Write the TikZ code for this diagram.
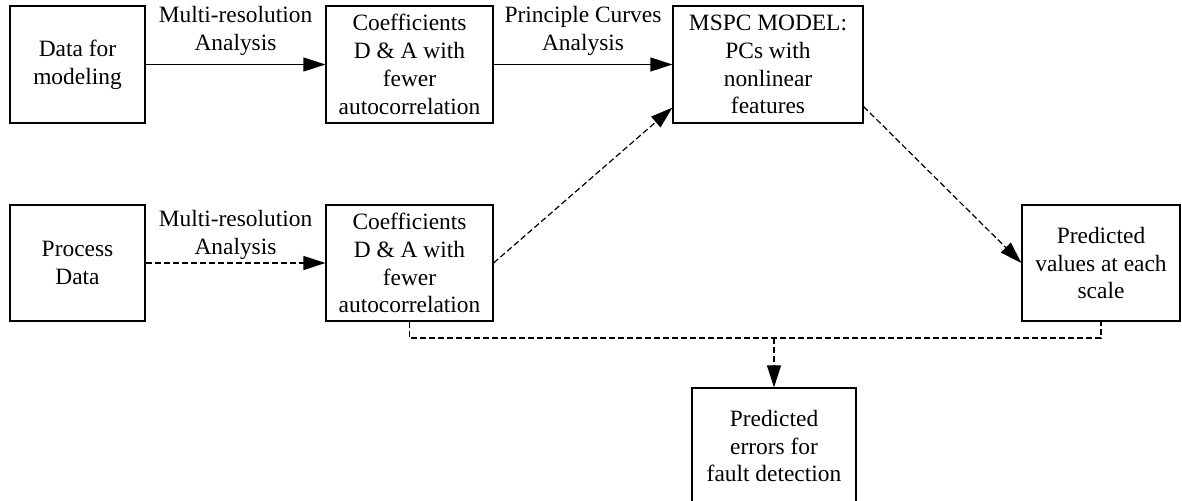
\documentclass[tikz,border=0pt]{standalone}
\usepackage{fontspec}
\setmainfont{Liberation Serif}
\usetikzlibrary{arrows.meta}
\begin{document}
\begin{tikzpicture}[x=1bp,y=-1bp,
  box/.style={draw,line width=1.2bp,rectangle,inner sep=0pt,align=center,
    font=\fontsize{23.5}{28}\selectfont},
  lbl/.style={inner sep=0pt,align=center,font=\fontsize{23.5}{28}\selectfont},
  conn/.style={line width=1.2bp,-{Triangle[length=22bp,width=14bp]}},
  dconn/.style={conn,dash pattern=on 6bp off 3bp},
  dline/.style={line width=1.2bp,dash pattern=on 6bp off 3bp}]
\useasboundingbox (0,0) rectangle (1182,501);
\node[box,minimum width=135bp,minimum height=117bp] (b1) at (77.5,64.5) {Data for\\modeling};
\node[box,minimum width=167bp,minimum height=117bp] (b2) at (409.5,64.5) {Coefficients\\D \& A with\\fewer\\autocorrelation};
\node[box,minimum width=190bp,minimum height=117bp] (b3) at (768,64.5) {MSPC MODEL:\\PCs with\\nonlinear\\features};
\node[box,minimum width=135bp,minimum height=116bp] (b4) at (77.5,263) {Process\\Data};
\node[box,minimum width=167bp,minimum height=116bp] (b5) at (409.5,263) {Coefficients\\D \& A with\\fewer\\autocorrelation};
\node[box,minimum width=158bp,minimum height=116bp] (b6) at (1101,263) {Predicted\\values at each\\scale};
\node[box,minimum width=164bp,minimum height=116bp] (b7) at (774,446) {Predicted\\errors for\\fault detection};
\node[lbl] (l1) at (235.5,31) {Multi-resolution\\Analysis};
\node[lbl] (l2) at (583,31) {Principle Curves\\Analysis};
\node[lbl] (l3) at (235.5,235) {Multi-resolution\\Analysis};
\coordinate (j) at (774,338);
\draw[conn] (b1.east) -- (b2.west);
\draw[conn] (b2.east) -- (b3.west);
\draw[dconn] (b4.east) -- (b5.west);
\draw[dconn] (b5.east) -- ([yshift=16bp]b3.south west);
\draw[dconn] ([yshift=17bp]b3.south east) -- (b6.west);
\draw[dline] (b5.south) |- (j) -| (b6.south);
\draw[dconn] (j) -- (b7.north);
\end{tikzpicture}
\end{document}
